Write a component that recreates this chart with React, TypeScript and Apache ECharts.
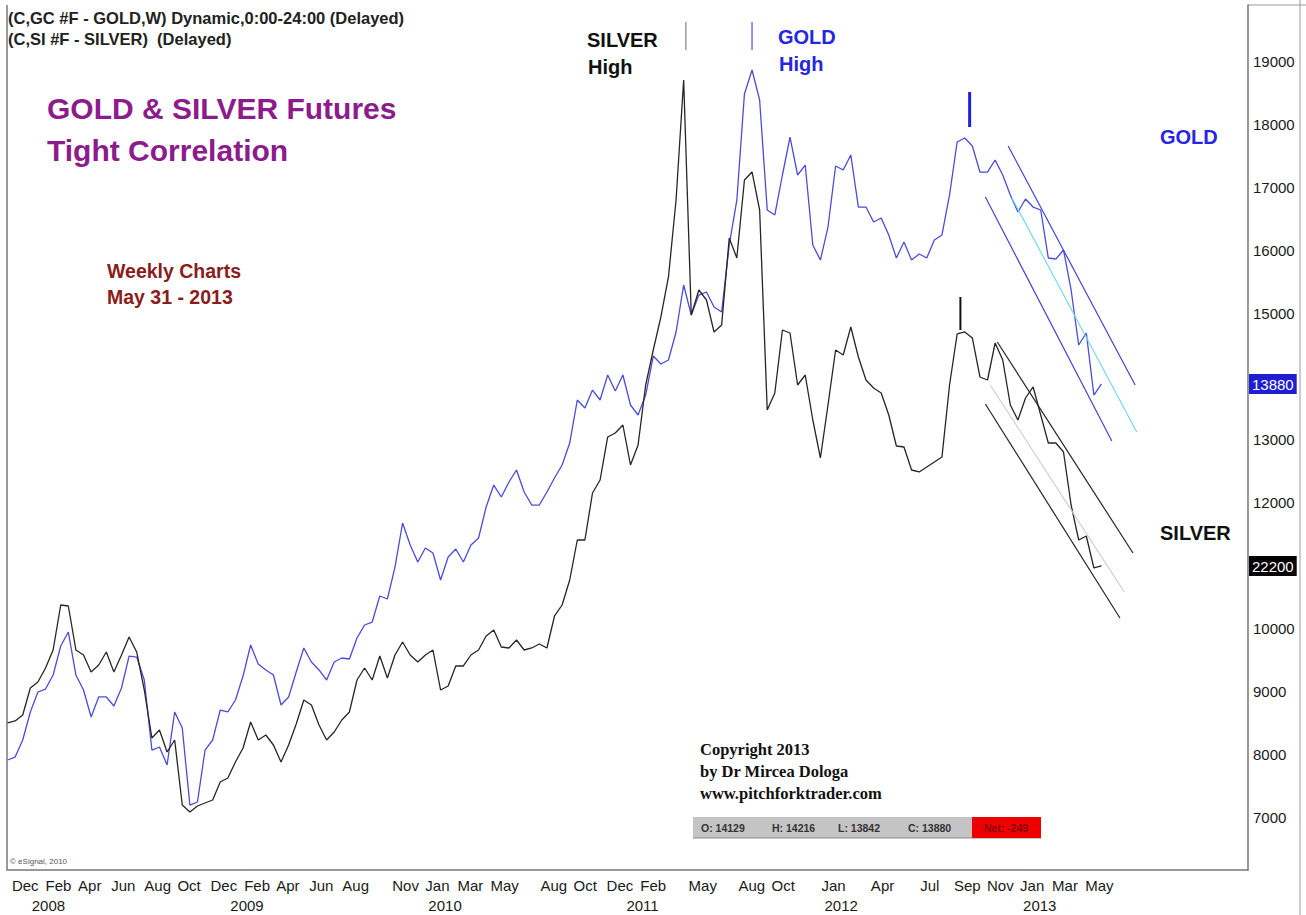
import React, { useEffect, useRef } from 'react';
import * as echarts from 'echarts';

// ---- data (weekly chart sampled every two weeks, starting 2007-11-23) ----
const SERIES_START = '2007-11-23';
const STEP_DAYS = 14;

// Gold futures (price x10, e.g. 13880 = 1388.0)
const goldValues = [
  7919, 7966, 8236, 8680, 8997, 9044, 9266, 9726, 9948, 9266,
  9028, 8600, 8918, 8918, 8775, 9060, 9567, 9551, 9187, 8077,
  8125, 7840, 8680, 8426, 7205, 7253, 8077, 8236, 8711, 8680,
  8870, 9250, 9742, 9441, 9346, 9266, 8791, 8918, 9314, 9694,
  9472, 9346, 9187, 9472, 9536, 9520, 9853, 10059, 10106, 10519,
  10471, 10978, 11676, 11327, 11058, 11280, 11200, 10772, 11137, 11264,
  11058, 11327, 11438, 11930, 12278, 12088, 12326, 12516, 12167, 11961,
  11961, 12167, 12389, 12595, 12944, 13626, 13499, 13784, 13626, 14022,
  13769, 14022, 13547, 13388, 13705, 14323, 14197, 14260, 14704, 15449,
  14973, 15290, 15338, 15100, 15021, 16083, 16796, 18477, 18857, 18382,
  16638, 16559, 17193, 17795, 17193, 17351, 16083, 15845, 16368, 17335,
  17272, 17510, 16685, 16685, 16448, 16511, 16242, 15877, 16131, 15845,
  15940, 15877, 16162, 16242, 16876, 17716, 17779, 17652, 17240, 17240,
  17431, 17193, 16876, 16606, 16812, 16685, 16638, 15877, 15861, 16004,
  15370, 14498, 14688, 13705, 13880,
];

// Silver futures (price x1000, e.g. 22200 = 22.200), own overlay scale
const silverValues = [
  13816, 13923, 14243, 15685, 16006, 16753, 17714, 20117, 20064, 17714,
  17447, 16540, 16913, 17608, 16540, 17447, 18409, 17608, 15578, 13015,
  13442, 12268, 12908, 9437, 9064, 9384, 9544, 9704, 10666, 10879,
  11734, 12481, 13870, 12908, 13175, 12641, 11734, 12641, 13763, 15044,
  14777, 13709, 12908, 13336, 13976, 14404, 16112, 16753, 16112, 17394,
  16219, 17447, 18142, 17447, 17074, 17447, 17714, 15578, 15792, 16860,
  16860, 17447, 17714, 18462, 18782, 17875, 17821, 18248, 17714, 17821,
  18035, 17821, 19530, 20117, 21452, 23588, 23588, 26098, 26792, 29089,
  29302, 29729, 27593, 28661, 31865, 33734, 35497, 37633, 41744, 48152,
  35603, 36938, 36404, 34696, 35069, 39715, 38647, 42812, 43240, 41210,
  30530, 31438, 34802, 34642, 31865, 32399, 29996, 27967, 30797, 33734,
  33467, 34963, 33361, 32132, 31705, 31438, 30263, 28608, 28555, 27326,
  27220, 27487, 27754, 28021, 31865, 34589, 34696, 34375, 32293, 32132,
  34108, 33200, 30797, 29996, 31171, 31759, 30263, 28768, 28768, 28288,
  25457, 23588, 23802, 22093, 22200,
];

// Down-trend channels drawn on the chart: [date, price]
const goldChannelUpper: [string, number][] = [['2012-12-10', 17653], ['2013-08-01', 13864]];
const goldChannelMedian: [string, number][] = [['2012-12-17', 16828], ['2013-08-04', 13119]];
const goldChannelLower: [string, number][] = [['2012-10-29', 16844], ['2013-06-19', 12976]];
const silverChannelUpper: [string, number][] = [['2012-11-20', 34162], ['2013-07-28', 22894]];
const silverChannelMedian: [string, number][] = [['2012-11-07', 31865], ['2013-07-12', 20812]];
const silverChannelLower: [string, number][] = [['2012-10-29', 30851], ['2013-07-04', 19423]];

// High markers
const silverHighMark: [string, number][] = [['2011-04-26', 19618], ['2011-04-26', 19174]];
const goldHighMark: [string, number][] = [['2011-08-26', 19618], ['2011-08-26', 19174]];
const goldSep2012Mark: [string, number][] = [['2012-09-30', 18509], ['2012-09-30', 17954]];
const silverSep2012Mark: [string, number][] = [['2012-09-13', 36565], ['2012-09-13', 34802]];

// Axis ticks
const goldTickValues = [7000, 8000, 9000, 10000, 12000, 13000, 15000, 16000, 17000, 18000, 19000];
const monthTicks = [
  '2007-12', '2008-02', '2008-04', '2008-06', '2008-08', '2008-10', '2008-12',
  '2009-02', '2009-04', '2009-06', '2009-08', '2009-11', '2010-01', '2010-03',
  '2010-05', '2010-08', '2010-10', '2010-12', '2011-02', '2011-05', '2011-08',
  '2011-10', '2012-01', '2012-04', '2012-07', '2012-09', '2012-11', '2013-01',
  '2013-03', '2013-05',
];
const MONTH_NAMES = ['Jan', 'Feb', 'Mar', 'Apr', 'May', 'Jun', 'Jul', 'Aug', 'Sep', 'Oct', 'Nov', 'Dec'];
const yearTicks = [2008, 2009, 2010, 2011, 2012, 2013];
const AXIS_MIN = '2007-11-22';
const AXIS_MAX = '2014-02-25';
const GOLD_RANGE = [6175, 19888];
const SILVER_RANGE = [5966, 52157];

const quote = { open: 14129, high: 14216, low: 13842, close: 13880, net: -249 };

const toTs = (s: string) => {
  const [y, m, d] = s.split('-').map(Number);
  return new Date(y, (m || 1) - 1, d || 1).getTime();
};

export default function App() {
  const ref = useRef<HTMLDivElement>(null);
  useEffect(() => {
    if (!ref.current) return;
    const chart = echarts.init(ref.current, undefined, { renderer: 'svg' });
    const [sy, sm, sd] = SERIES_START.split('-').map(Number);
    const dateAt = (i: number) => new Date(sy, sm - 1, sd + STEP_DAYS * i).getTime();
    const goldData = goldValues.map((v, i) => [dateAt(i), v]);
    const silverData = silverValues.map((v, i) => [dateAt(i), v]);
    const goldLast = goldValues[goldValues.length - 1];
    const silverLast = silverValues[silverValues.length - 1];
    const pts = (a: [string, number][]) => a.map(([d, v]) => [toTs(d), v]);
    const seg = (name: string, data: [string, number][], color: string, width: number, yIdx: number) => ({
      name, type: 'line', data: pts(data), yAxisIndex: yIdx, showSymbol: false, silent: true,
      lineStyle: { color, width }, z: 3,
    });
    const axisFont = 'Arial, "Liberation Sans", sans-serif';
    const bold = (size: number) => `bold ${size}px Arial, "Liberation Sans", sans-serif`;
    const serif = 'bold 16.5px "Liberation Serif", "Times New Roman", serif';
    const txt = (text: string, x: number, y: number, font: string, fill: string) => ({
      type: 'text', x, y, silent: true,
      style: { text, font, fill, verticalAlign: 'middle' },
    });

    chart.setOption({
      animation: false,
      backgroundColor: '#ffffff',
      grid: { left: 7, right: 58, top: 5, bottom: 45, containLabel: false, outerBoundsMode: 'none' },
      xAxis: [
        {
          type: 'value', min: toTs(AXIS_MIN), max: toTs(AXIS_MAX),
          axisLine: { show: true, onZero: false, lineStyle: { color: '#777', width: 1.5 } },
          axisTick: { show: false }, splitLine: { show: false },
          axisLabel: {
            customValues: monthTicks.map(toTs),
            formatter: (v: number) => MONTH_NAMES[new Date(v).getMonth()],
            align: 'left', margin: 8, fontSize: 15, color: '#1a1a1a', fontFamily: axisFont,
            hideOverlap: false,
          },
        },
        {
          type: 'value', min: toTs(AXIS_MIN), max: toTs(AXIS_MAX), position: 'bottom',
          axisLine: { show: false, onZero: false }, axisTick: { show: false }, splitLine: { show: false },
          axisLabel: {
            customValues: yearTicks.map((y) => new Date(y, 0, 1).getTime()),
            formatter: (v: number) => String(new Date(v).getFullYear()),
            align: 'left', margin: 28, fontSize: 15, color: '#1a1a1a', fontFamily: axisFont,
            padding: [0, 0, 0, 3], hideOverlap: false,
          },
        },
      ],
      yAxis: [
        {
          type: 'value', position: 'right', min: GOLD_RANGE[0], max: GOLD_RANGE[1],
          axisLine: { show: true, lineStyle: { color: '#777', width: 1.5 } },
          axisTick: { show: false }, splitLine: { show: false },
          axisLabel: {
            customValues: [...goldTickValues, goldLast],
            formatter: (v: number) => (v === goldLast ? `{last|${v}}` : `{n|${v}}`),
            margin: 1,
            rich: {
              n: { fontSize: 15, color: '#1a1a1a', fontFamily: axisFont, padding: [0, 0, 0, 4] },
              last: { fontSize: 15, color: '#ffffff', fontFamily: axisFont, backgroundColor: '#1f1fd2', padding: [3, 3, 2, 3] },
            },
          },
        },
        {
          type: 'value', position: 'right', min: SILVER_RANGE[0], max: SILVER_RANGE[1],
          axisLine: { show: false }, axisTick: { show: false }, splitLine: { show: false },
          axisLabel: {
            customValues: [silverLast],
            formatter: (v: number) => `{last|${v}}`,
            margin: 1,
            rich: {
              last: { fontSize: 15, color: '#ffffff', fontFamily: axisFont, backgroundColor: '#000000', padding: [3, 3, 2, 3] },
            },
          },
        },
      ],
      series: [
        {
          name: 'GOLD', type: 'line', data: goldData, yAxisIndex: 0, showSymbol: false,
          lineStyle: { color: '#4b4bdc', width: 1.3 }, z: 2,
        },
        {
          name: 'SILVER', type: 'line', data: silverData, yAxisIndex: 1, showSymbol: false,
          lineStyle: { color: '#262626', width: 1.3 }, z: 2,
        },
        seg('gold-upper', goldChannelUpper, '#4444d8', 1.2, 0),
        seg('gold-median', goldChannelMedian, '#6fdcef', 1.2, 0),
        seg('gold-lower', goldChannelLower, '#4444d8', 1.2, 0),
        seg('silver-upper', silverChannelUpper, '#262626', 1.2, 1),
        seg('silver-median', silverChannelMedian, '#cfcfcf', 1.2, 1),
        seg('silver-lower', silverChannelLower, '#262626', 1.2, 1),
        seg('silver-high', silverHighMark, '#999999', 1.5, 0),
        seg('gold-high', goldHighMark, '#6f6ff5', 1.5, 0),
        seg('gold-sep12', goldSep2012Mark, '#2020dd', 3, 0),
        seg('silver-sep12', silverSep2012Mark, '#111111', 2, 1),
      ],
      graphic: [
        { type: 'line', silent: true, shape: { x1: 7, y1: 5, x2: 7, y2: 870 }, style: { stroke: '#777', lineWidth: 1.5 } },
        { type: 'line', silent: true, shape: { x1: 1300, y1: 0, x2: 1300, y2: 915 }, style: { stroke: '#999', lineWidth: 1 } },
        { type: 'line', silent: true, shape: { x1: 1248, y1: 5, x2: 1306, y2: 5 }, style: { stroke: '#999', lineWidth: 1 } },
        txt('(C,GC #F - GOLD,W) Dynamic,0:00-24:00 (Delayed)', 8, 18, bold(16.5), '#222'),
        txt('(C,SI #F - SILVER)  (Delayed)', 8, 39, bold(16.5), '#222'),
        txt('SILVER', 587, 40, bold(20), '#111'),
        txt('High', 588, 67, bold(20), '#111'),
        txt('GOLD', 778, 37, bold(20), '#2626e0'),
        txt('High', 779, 64, bold(20), '#2626e0'),
        txt('GOLD & SILVER Futures', 47, 108, bold(30), '#8c1c8c'),
        txt('Tight Correlation', 47, 150, bold(30), '#8c1c8c'),
        txt('Weekly Charts', 107, 271, bold(19.5), '#8b1c1c'),
        txt('May 31 - 2013', 107, 297, bold(19.5), '#8b1c1c'),
        txt('GOLD', 1160, 137, bold(20), '#2626e0'),
        txt('SILVER', 1160, 533, bold(20), '#111'),
        txt('Copyright 2013', 700, 749, serif, '#111'),
        txt('by Dr Mircea Dologa', 700, 771, serif, '#111'),
        txt('www.pitchforktrader.com', 700, 793, serif, '#111'),
        { type: 'rect', silent: true, shape: { x: 693, y: 817, width: 348, height: 21 }, style: { fill: '#c4c4c4' } },
        { type: 'line', silent: true, shape: { x1: 693, y1: 838, x2: 1041, y2: 838 }, style: { stroke: '#888', lineWidth: 1 } },
        { type: 'rect', silent: true, shape: { x: 972, y: 817, width: 69, height: 21 }, style: { fill: '#ee0000' } },
        txt(`O: ${quote.open}`, 701, 828, bold(10.5), '#333'),
        txt(`H: ${quote.high}`, 772, 828, bold(10.5), '#333'),
        txt(`L: ${quote.low}`, 838, 828, bold(10.5), '#333'),
        txt(`C: ${quote.close}`, 908, 828, bold(10.5), '#333'),
        txt(`Net: ${quote.net}`, 984, 828, bold(10.5), '#8a0000'),
        txt('\u00a9 eSignal, 2010', 10, 861, '8px Arial, "Liberation Sans", sans-serif', '#555'),
      ],
    });
    return () => chart.dispose();
  }, []);
  return (
    <div
      ref={ref}
      style={{ position: 'fixed', left: 0, top: 0, width: 1306, height: 915, background: '#fff' }}
    />
  );
}
